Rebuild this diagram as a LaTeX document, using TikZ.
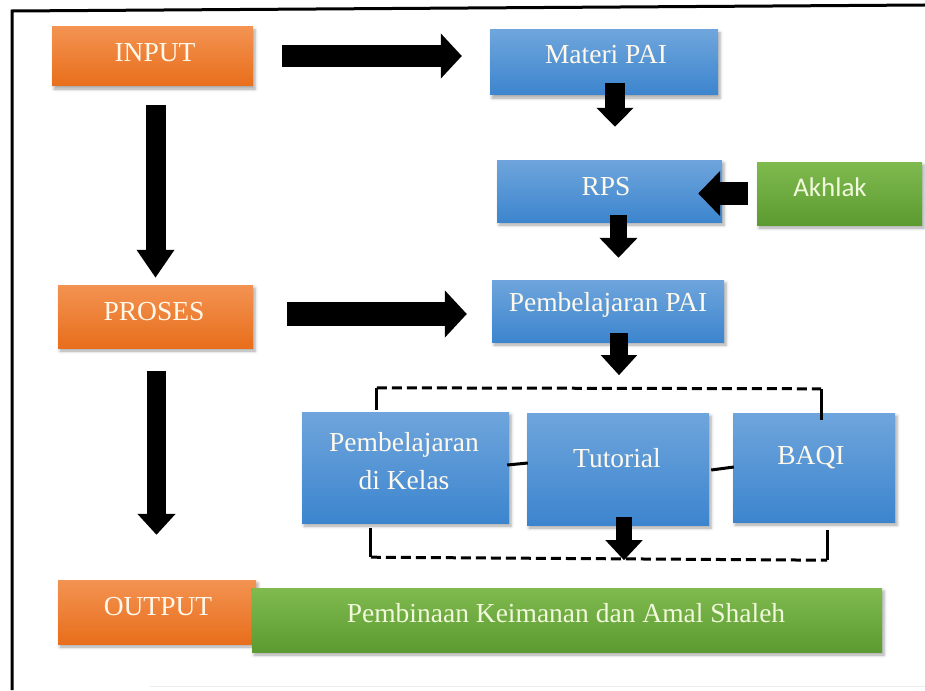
\documentclass[tikz,border=0pt]{standalone}
\usepackage{fontspec}
\setmainfont{Liberation Serif}
\newfontfamily\akfont{Carlito}
\usetikzlibrary{arrows.meta,calc,shadows.blur}

\definecolor{orgtop}{HTML}{F39352}
\definecolor{orgbot}{HTML}{E86E1B}
\definecolor{blutop}{HTML}{6FA5DC}
\definecolor{blubot}{HTML}{3C85CE}
\definecolor{grntop}{HTML}{7FBA4E}
\definecolor{grnbot}{HTML}{5C9B31}
\definecolor{txtlight}{HTML}{FFF9EC}
\definecolor{txtgreen}{HTML}{F1F9DC}

\begin{document}
\begin{tikzpicture}[x=1pt,y=-1pt,
  box/.style={draw=none, inner sep=0pt,
    blur shadow={shadow xshift=2pt, shadow yshift=-3pt,
      shadow blur radius=3pt, shadow opacity=35}},
  obox/.style={box, top color=orgtop, bottom color=orgbot},
  bbox/.style={box, top color=blutop, bottom color=blubot},
  gbox/.style={box, top color=grntop, bottom color=grnbot},
  lbl/.style={inner sep=0pt, text height=19pt, text depth=0pt,
    font=\fontsize{27.5}{31}\selectfont, text=txtlight},
  blockarr/.style n args={3}{draw=black, line width=#1, line cap=butt,
    -{Triangle[length=#2, width=#3]}},
  frame/.style={line width=3pt, draw=black},
  dashframe/.style={line width=3pt, draw=black, dash pattern=on 10pt off 5pt},
  link/.style={line width=3pt, draw=black}
]
\useasboundingbox (0,0) rectangle (925,690);

% outer frame (left and top edges only)
\draw[frame] (12,690) -- (12,11) -- (925,5);
\draw[gray!15, line width=1pt] (150,686) -- (925,686);

% left column
\node[obox, minimum width=201pt, minimum height=59pt] (input)  at (152.5,56.5) {};
\node[obox, minimum width=195pt, minimum height=63pt] (proses) at (155.5,316.5) {};
\node[obox, minimum width=198pt, minimum height=64pt] (output) at (157,612) {};
\node[gbox, minimum width=630pt, minimum height=64pt] (shaleh) at (567,620) {};

% right column
\node[bbox, minimum width=228pt, minimum height=65pt] (materi) at (604,62.5) {};
\node[bbox, minimum width=225pt, minimum height=62pt] (rps)    at (609.5,191) {};
\node[gbox, minimum width=165pt, minimum height=63pt] (akhlak) at (839.5,193.5) {};
\node[bbox, minimum width=232pt, minimum height=62pt] (pai)    at (608,311) {};

% learning activities
\node[bbox, minimum width=207pt, minimum height=111pt] (kelas)    at (405.5,467.5) {};
\node[bbox, minimum width=182pt, minimum height=112pt] (tutorial) at (618,469) {};
\node[bbox, minimum width=162pt, minimum height=109pt] (baqi)     at (814,467.5) {};

% labels
\node[lbl] (t-input)  at (155,52)  {INPUT};
\node[lbl] (t-proses) at (154,311) {PROSES};
\node[lbl] (t-output) at (158,606) {OUTPUT};
\node[lbl, text=txtgreen] (t-shaleh) at (566,613) {Pembinaan Keimanan dan Amal Shaleh};
\node[lbl] (t-materi) at (606,54)  {Materi PAI};
\node[lbl] (t-rps)    at (606,186) {RPS};
\node[lbl, text=txtgreen, font=\akfont\fontsize{27}{30}\selectfont] (t-akhlak) at (830,187) {Akhlak};
\node[lbl] (t-pai)    at (608,302) {Pembelajaran PAI};
\node[inner sep=0pt, align=center, text=txtlight, font=\fontsize{27.5}{38}\selectfont]
  (t-kelas) at (404,461) {Pembelajaran\\di Kelas};
\node[lbl] (t-tutorial) at (617,458) {Tutorial};
\node[lbl] (t-baqi)     at (811,455) {BAQI};

% dashed grouping frame with its stubs
\coordinate (gTL) at ($(kelas.north west)+(75,-24)$);
\coordinate (gTR) at ($(baqi.north east)+(-74,-24)$);
\coordinate (gBL) at ($(kelas.south west)+(69,34)$);
\coordinate (gBR) at ($(baqi.south east)+(-68,38)$);
\draw[dashframe] (gTL) -- (gTR);
\draw[dashframe] (gBL) -- (gBR);
\draw[link] (gTL) -- ($(kelas.north west)+(75,-2)$);
\draw[link] (gTR) -- ($(baqi.north east)+(-74,7)$);
\draw[link] (gBL) -- ($(kelas.south west)+(69,5)$);
\draw[link] (gBR) -- ($(baqi.south east)+(-68,8)$);

% links between the activities
\draw[link] ($(kelas.east)+(-2,-2.5)$) -- ($(tutorial.west)+(1,-6)$);
\draw[link] ($(tutorial.east)+(2,1)$) -- ($(baqi.west)+(1,-0.5)$);

% block arrows
\draw[blockarr={20pt}{28pt}{36pt}] ($(input.south)+(3,19)$) -- ($(proses.north)+(0,-7)$);
\draw[blockarr={19pt}{21pt}{37pt}] ($(proses.south)+(1,23)$) -- ($(output.north)+(-0.5,-45)$);
\draw[blockarr={22pt}{21pt}{44pt}] ($(input.east)+(29,-0.5)$) -- ($(materi.west)+(-28,-6.5)$);
\draw[blockarr={24pt}{22pt}{46pt}] ($(proses.east)+(34,-2.5)$) -- ($(pai.west)+(-25,3)$);
\draw[blockarr={20pt}{19pt}{36pt}] ($(materi.south)+(11,-12)$) -- ($(rps.north)+(5.5,-33)$);
\draw[blockarr={23pt}{22pt}{44pt}] ($(akhlak.west)+(-9,0)$) -- ($(rps.east)+(-24,2.5)$);
\draw[blockarr={17pt}{20pt}{37pt}] ($(rps.south)+(9,-7)$) -- ($(pai.north)+(10.5,-22)$);
\draw[blockarr={18pt}{20pt}{35pt}] ($(pai.south)+(11,-9)$) -- ($(pai.south)+(11,33)$);
\draw[blockarr={16pt}{20pt}{36pt}] ($(tutorial.south)+(6,-8)$) -- ($(tutorial.south)+(6,35)$);
\end{tikzpicture}
\end{document}
